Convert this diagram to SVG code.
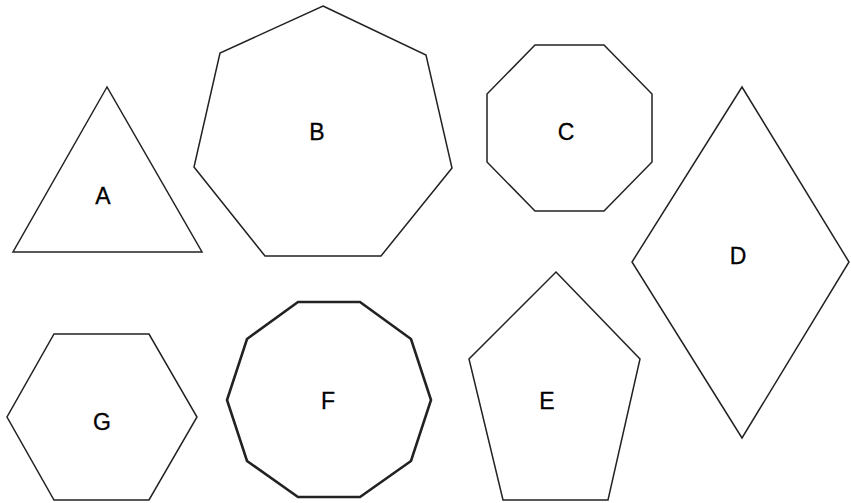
<svg xmlns="http://www.w3.org/2000/svg" width="851" height="503" viewBox="0 0 851 503">
<style>
.s{fill:#fff;stroke:#222;stroke-width:1.5;stroke-linejoin:miter}
.t{font-family:"Liberation Sans",Arial,sans-serif;font-size:23px;fill:#000;text-anchor:middle;dominant-baseline:central;stroke:#000;stroke-width:0.3}
</style>
<rect width="851" height="503" fill="#fff"/>
<g id="A"><polygon class="s" points="107,87 13,252 202,252"/><text class="t" x="103" y="196">A</text></g>
<g id="B"><polygon class="s" points="323,6 426,55 452,168 381,256 265,256 194,167 220,53"/><text class="t" x="317" y="132">B</text></g>
<g id="C"><polygon class="s" points="535,45 604,45 652,94 652,162 604,211 535,211 487,162 487,94"/><text class="t" x="566" y="132">C</text></g>
<g id="D"><polygon class="s" points="742,87 849,262 742,438 632,262"/><text class="t" x="738" y="256">D</text></g>
<g id="E"><polygon class="s" points="556,272 640,359 608,500 503,500 469,359"/><text class="t" x="547" y="401">E</text></g>
<g id="F"><polygon class="s" style="stroke-width:2.6" points="298,302 360,302 411,339 431,400 411,461 360,497 298,497 247,461 227,400 247,339"/><text class="t" x="328" y="401">F</text></g>
<g id="G"><polygon class="s" points="54,334 149,334 197,417 149,500 54,500 7,417"/><text class="t" x="102" y="422">G</text></g>
<g id="connectors"></g>
</svg>
